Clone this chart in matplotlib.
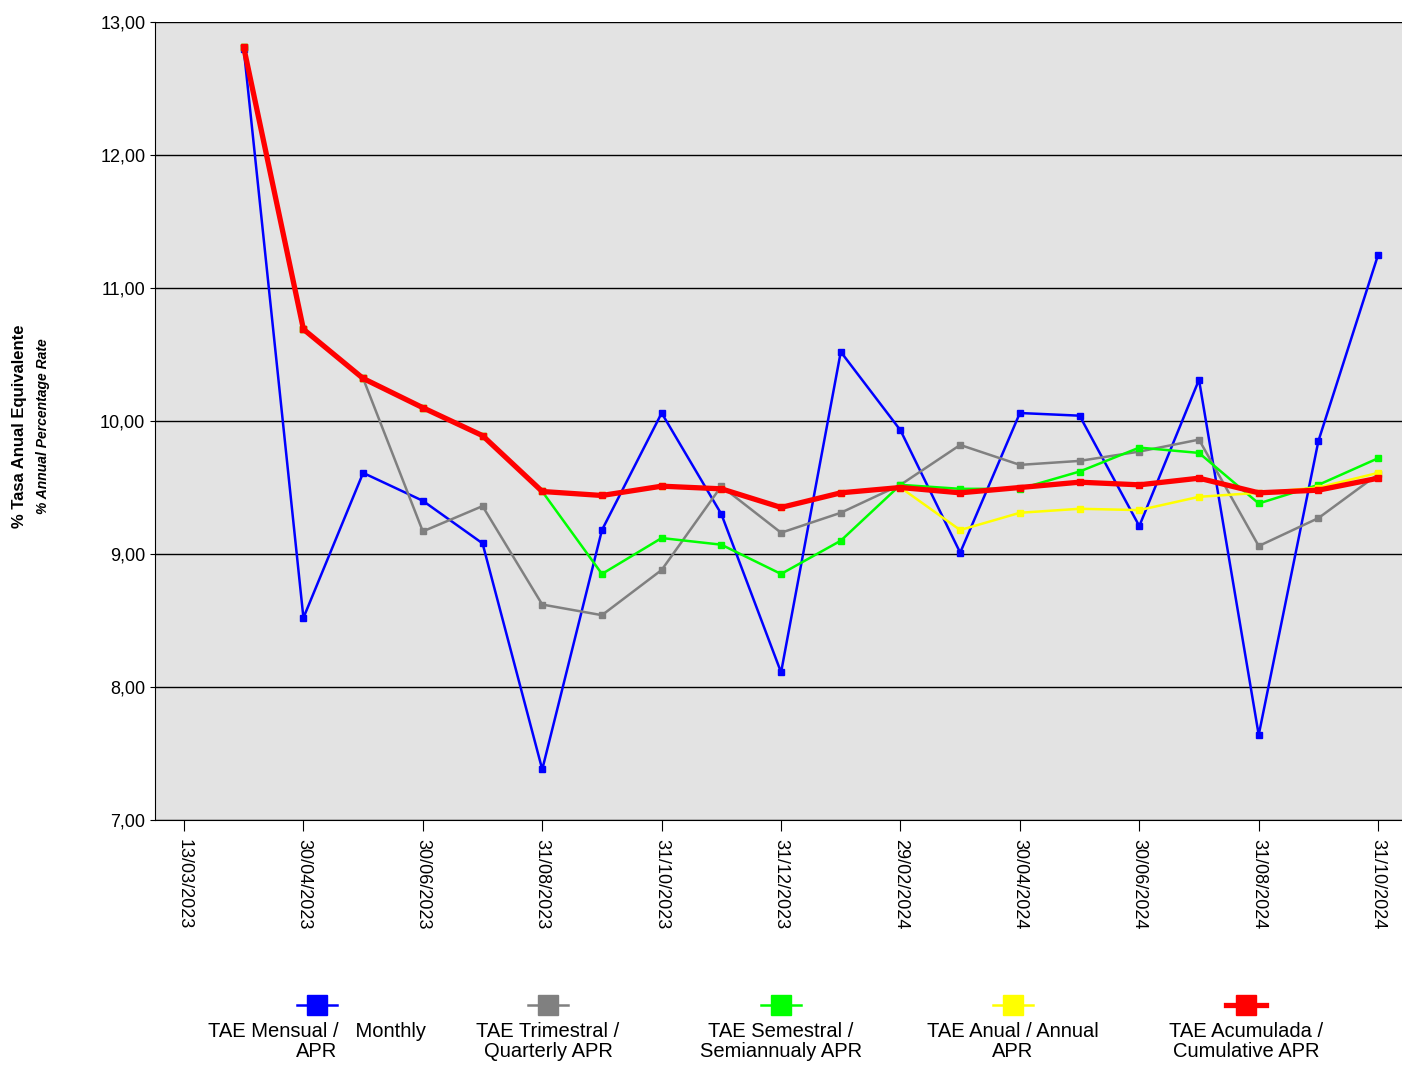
import matplotlib
matplotlib.use('Agg')
import matplotlib.pyplot as plt
from matplotlib.lines import Line2D
import numpy as np

plt.rcParams['font.family'] = ['Liberation Sans', 'DejaVu Sans']

TICK_LABELS = ['13/03/2023', '30/04/2023', '30/06/2023', '31/08/2023', '31/10/2023',
               '31/12/2023', '29/02/2024', '30/04/2024', '30/06/2024', '31/08/2024', '31/10/2024']
# monthly positions 1..20 (index 0 = start date 13/03/2023)
monthly = [12.80, 8.52, 9.61, 9.40, 9.08, 7.38, 9.18, 10.06, 9.30, 8.11,
           10.52, 9.93, 9.01, 10.06, 10.04, 9.21, 10.31, 7.64, 9.85, 11.25]
quarterly = [12.81, 10.69, 10.32, 9.17, 9.36, 8.62, 8.54, 8.88, 9.51, 9.16,
             9.31, 9.52, 9.82, 9.67, 9.70, 9.77, 9.86, 9.06, 9.27, 9.60]
semiannual = [12.81, 10.69, 10.32, 10.10, 9.89, 9.47, 8.85, 9.12, 9.07, 8.85,
              9.10, 9.52, 9.49, 9.49, 9.62, 9.80, 9.76, 9.38, 9.52, 9.72]
annual = [12.81, 10.69, 10.32, 10.10, 9.89, 9.47, 9.44, 9.51, 9.49, 9.35,
          9.46, 9.50, 9.18, 9.31, 9.34, 9.33, 9.43, 9.46, 9.50, 9.61]
cumulative = [12.81, 10.69, 10.32, 10.10, 9.89, 9.47, 9.44, 9.51, 9.49, 9.35,
              9.46, 9.50, 9.46, 9.50, 9.54, 9.52, 9.57, 9.46, 9.48, 9.57]

x = np.arange(1, len(monthly) + 1)
W, H = 1402, 1065

fig = plt.figure(figsize=(W / 100, H / 100), dpi=100)
ax = fig.add_axes([155 / W, 1 - 820 / H, (W - 155) / W, (820 - 22) / H])
ax.set_facecolor('#e3e3e3')

series = [
    (monthly, '#0000ff', 1.8, 'TAE Mensual /   Monthly\nAPR'),
    (quarterly, '#808080', 1.8, 'TAE Trimestral /\nQuarterly APR'),
    (semiannual, '#00ff00', 1.8, 'TAE Semestral /\nSemiannualy APR'),
    (annual, '#ffff00', 1.8, 'TAE Anual / Annual\nAPR'),
    (cumulative, '#ff0000', 3.8, 'TAE Acumulada /\nCumulative APR'),
]
for vals, col, lw, lab in series:
    ax.plot(x, vals, color=col, lw=lw, marker='s', ms=4, zorder=3)

ax.set_xlim(-0.486, 20.4)
ax.set_ylim(7, 13)
yt = np.arange(7, 13.01, 1)
ax.set_yticks(yt)
ax.set_yticklabels([f'{v:.2f}'.replace('.', ',') for v in yt], fontsize=13)
ax.set_xticks(np.arange(0, 21, 2))
ax.set_xticklabels(TICK_LABELS, rotation=-90, fontsize=13)
ax.grid(axis='y', color='black', lw=1)
ax.set_axisbelow(True)
ax.tick_params(axis='x', length=8, pad=6)
ax.spines['top'].set_visible(False)
ax.spines['right'].set_visible(False)

fig.text(0.014, 0.6, '% Tasa Anual Equivalente', rotation=90, fontsize=12,
         fontweight='bold', ha='center', va='center')
fig.text(0.031, 0.6, '% Annual Percentage Rate', rotation=90, fontsize=10,
         fontweight='bold', style='italic', ha='center', va='center')

# legend: marker above, centred text below
legend_x = [317, 548, 781, 1013, 1246]
for (vals, col, lw, lab), lx in zip(series, legend_x):
    fig.add_artist(Line2D([(lx - 20) / W, (lx + 20) / W], [1 - 1005 / H] * 2,
                          color=col, lw=lw, transform=fig.transFigure))
    fig.add_artist(Line2D([lx / W], [1 - 1005 / H], color=col, marker='s', ms=14,
                          transform=fig.transFigure))
    fig.text(lx / W, 1 - 1022 / H, lab, ha='center', va='top', fontsize=14.5,
             linespacing=1.05)

fig.savefig('out.png', dpi=100)
